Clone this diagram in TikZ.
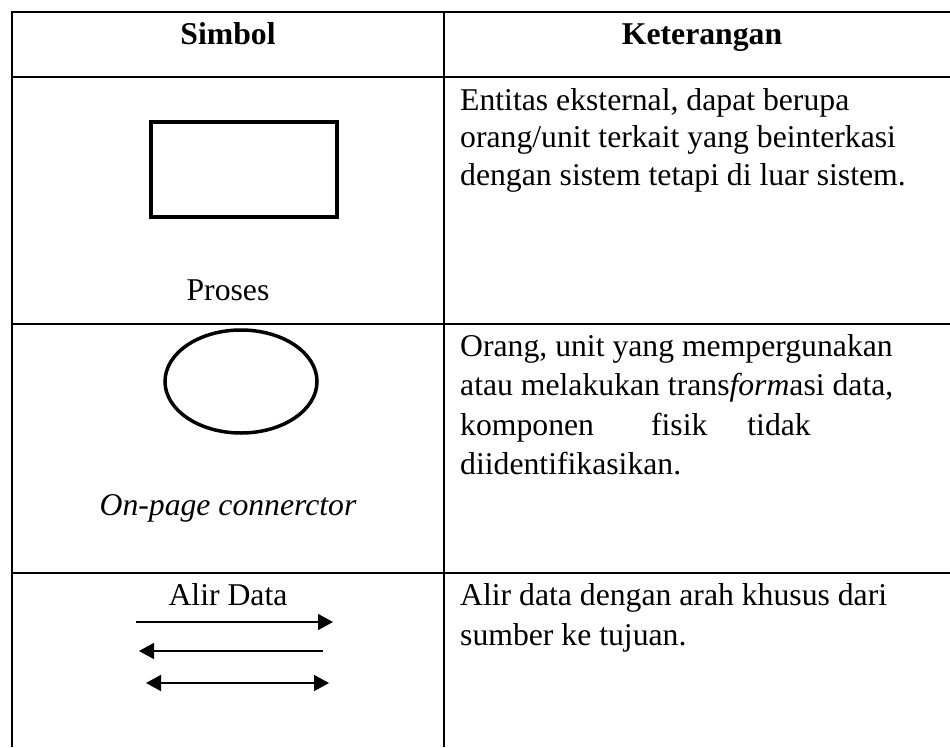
\documentclass[tikz,border=0pt]{standalone}
\usepackage{fontspec}
\setmainfont{Liberation Serif}
\usetikzlibrary{shapes.geometric,arrows.meta}
\tikzset{
    table-line/.style = {line width=2.6pt},
    cell-text/.style = {inner sep=0pt, anchor=base west, font=\fontsize{31.7}{37.5}\selectfont},
    symbol-text/.style = {inner sep=0pt, anchor=base, font=\fontsize{31.7}{37.5}\selectfont},
    head-text/.style = {inner sep=0pt, anchor=base, font=\fontsize{31.7}{37.5}\selectfont\bfseries},
    Flow/.tip = {Triangle[length=15pt, width=16pt]},
    flow-arrow/.style = {line width=1.6pt},
}

\begin{document}
\begin{tikzpicture}[x=1pt, y=-1pt]
\useasboundingbox (0,0) rectangle (950,747);

\draw[table-line] (950,12) -- (12,12) -- (12,747);
\draw[table-line] (12,77) -- (950,77);
\draw[table-line] (12,324) -- (950,324);
\draw[table-line] (12,573) -- (950,573);
\draw[table-line] (444,12) -- (444,747);

\node[head-text] (simbol) at (228,44) {Simbol};
\node[head-text] (keterangan) at (702,44) {Keterangan};

\node[draw, line width=4.2pt, inner sep=0pt, minimum width=186pt, minimum height=95pt] (proses-box) at (244,169.5) {};
\node[symbol-text] (proses-label) at (228,300) {Proses};

\node[draw, ellipse, line width=3.5pt, inner sep=0pt, minimum width=152pt, minimum height=103pt] (konektor) at (241,381.5) {};
\node[symbol-text] (konektor-label) at (228,515) {\itshape On-page connerctor};

\node[symbol-text] (alir-label) at (228,605) {Alir Data};
\coordinate (flow1-start) at (136,622);
\coordinate (flow1-end) at (333,622);
\coordinate (flow2-start) at (323,651);
\coordinate (flow2-end) at (139,651);
\coordinate (flow3-start) at (146,683);
\coordinate (flow3-end) at (329,683);
\draw[flow-arrow, -Flow] (flow1-start) -- (flow1-end);
\draw[flow-arrow, -Flow] (flow2-start) -- (flow2-end);
\draw[flow-arrow, Flow-Flow] (flow3-start) -- (flow3-end);

\foreach \txt [count=\i] in {{Entitas eksternal, dapat berupa},
    {orang/unit terkait yang beinterkasi},
    {dengan sistem tetapi di luar sistem.}}
    \node[cell-text] (entitas-\i) at (460,72.5+37.5*\i) {\txt};

\foreach \txt [count=\i] in {{Orang, unit yang mempergunakan},
    {atau melakukan trans\textit{form}asi data,},
    {komponen\hspace{1.8em}fisik\hspace{1.26em}tidak},
    {diidentifikasikan.}}
    \node[cell-text] (orang-\i) at (460,316.4+39.6*\i) {\txt};

\foreach \txt [count=\i] in {{Alir data dengan arah khusus dari},
    {sumber ke tujuan.}}
    \node[cell-text] (alir-\i) at (460,565+40*\i) {\txt};
\end{tikzpicture}
\end{document}
